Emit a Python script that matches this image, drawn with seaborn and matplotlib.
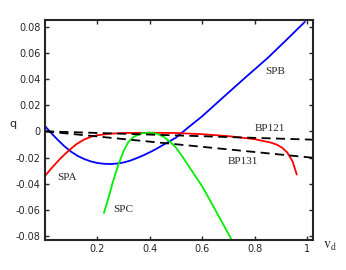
import numpy as np
import pandas as pd
import matplotlib
matplotlib.use("Agg")
import matplotlib.pyplot as plt
import seaborn as sns

# SPB (blue)
spb_x = [0.0, 0.025, 0.05, 0.075, 0.1, 0.125, 0.15, 0.175, 0.2, 0.225, 0.25,
         0.275, 0.3, 0.325, 0.35, 0.375, 0.4, 0.425, 0.45, 0.475, 0.5, 0.55,
         0.6, 0.65, 0.7, 0.77, 0.85, 0.92, 0.992]
spb_q = [0.004, -0.0016, -0.0068, -0.0116, -0.0156, -0.0188, -0.0212,
         -0.0230, -0.0242, -0.0248, -0.025, -0.0246, -0.0238, -0.0224,
         -0.0205, -0.0184, -0.016, -0.0134, -0.0105, -0.0077, -0.0048, 0.0035,
         0.0115, 0.0205, 0.0295, 0.042, 0.056, 0.0695, 0.0836]

# SPA (red)
spa_x = [0.0, 0.03, 0.06, 0.089, 0.12, 0.15, 0.175, 0.2, 0.25, 0.3, 0.4, 0.5,
         0.6, 0.7, 0.8, 0.86, 0.885, 0.905, 0.925, 0.945, 0.961]
spa_q = [-0.034, -0.027, -0.0205, -0.015, -0.0098, -0.0062, -0.0042, -0.003,
         -0.0018, -0.0013, -0.0011, -0.0013, -0.0022, -0.0037, -0.006, -0.0085,
         -0.0102, -0.0125, -0.0162, -0.023, -0.033]

# SPC (green)
spc_x = [0.225, 0.242, 0.26, 0.28, 0.3, 0.318, 0.34, 0.37, 0.4, 0.43, 0.455,
         0.477, 0.5, 0.525, 0.55, 0.575, 0.6, 0.65, 0.713]
spc_q = [-0.0623, -0.051, -0.038, -0.0255, -0.015, -0.0082, -0.004, -0.0015,
         -0.001, -0.002, -0.0045, -0.008, -0.0125, -0.0195, -0.027, -0.0345,
         -0.042, -0.060, -0.083]

# branch point lines (dashed)
bp_x = [0.0, 1.023]
bp121_q = [0.0, -0.0064]
bp131_q = [0.0, -0.0202]

labels = ["SPB", "BP121", "BP131", "SPA", "SPC"]
label_x = [0.878, 0.859, 0.755, 0.083, 0.297]
label_q = [0.0459, 0.0024, -0.0232, -0.035, -0.0598]

sns.set_theme(style="ticks")
plt.rcParams["font.family"] = ["DejaVu Sans"]
plt.rcParams["mathtext.fontset"] = "stix"

fig = plt.figure(figsize=(3.46, 2.70), dpi=100)
ax = fig.add_axes([45 / 346, 30 / 270, 268 / 346, 220 / 270])

sns.lineplot(x=spb_x, y=spb_q, ax=ax, color="#0000ff", lw=1.3, estimator=None)
sns.lineplot(x=spa_x, y=spa_q, ax=ax, color="#ff0000", lw=1.3, estimator=None)
sns.lineplot(x=spc_x, y=spc_q, ax=ax, color="#00ee00", lw=1.3, estimator=None)
ax.plot(bp_x, bp121_q, color="black", lw=1.3, dashes=[5, 3])
ax.plot(bp_x, bp131_q, color="black", lw=1.3, dashes=[5, 3])

for name, lx, lq in zip(labels, label_x, label_q):
    ax.text(lx, lq, name, ha="center", va="center", fontsize=8,
            family=["Liberation Serif", "DejaVu Serif"])

ax.set_xlim(0, 1.023)
ax.set_ylim(-0.083, 0.085)
ax.set_xticks([0.2, 0.4, 0.6, 0.8, 1.0])
ax.set_xticklabels(["0.2", "0.4", "0.6", "0.8", "1"])
ax.set_yticks([-0.08, -0.06, -0.04, -0.02, 0, 0.02, 0.04, 0.06, 0.08])
ax.set_yticklabels(["-0.08", "-0.06", "-0.04", "-0.02", "0", "0.02", "0.04",
                    "0.06", "0.08"])
ax.tick_params(direction="in", length=3, width=1, top=True, right=True,
               labelsize=7, colors="#262626", pad=3)
for s in ax.spines.values():
    s.set_visible(True)
    s.set_color("#262626")
    s.set_linewidth(1.5)

fig.text(13 / 346, 1 - 124 / 270, "q", fontsize=8, ha="center", va="center",
         color="#262626")
fig.text(330 / 346, 1 - 246 / 270, r"$\mathrm{v_d}$", fontsize=10,
         ha="center", va="center", color="#262626")

fig.savefig("out.png", dpi=100)
